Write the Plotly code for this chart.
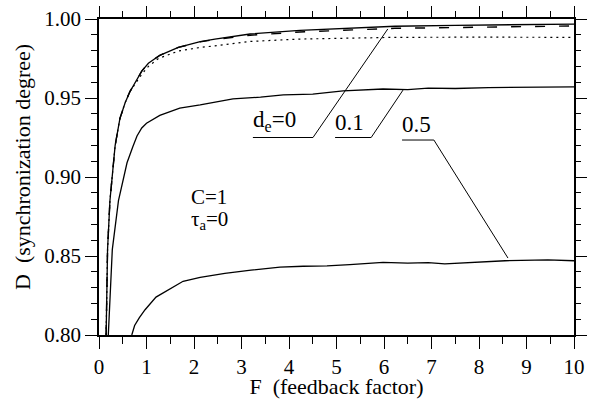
import plotly.graph_objects as go

# d_e = 0 (solid)
f_de0 = [0.15, 0.18, 0.23, 0.28, 0.34, 0.44, 0.55, 0.65, 0.76, 0.9, 1.04, 1.28, 1.67, 2.13, 2.44, 3.18,
         4.23, 5.28, 6.23, 7.5, 8.5, 10.0]
d_de0 = [0.800, 0.854, 0.885, 0.902, 0.920, 0.937, 0.947, 0.954, 0.960, 0.967, 0.972, 0.977, 0.982,
         0.9857, 0.9873, 0.9905, 0.9928, 0.9943, 0.9954, 0.996, 0.9964, 0.9968]

# dashed variant
f_dash = [0.15, 0.18, 0.23, 0.28, 0.34, 0.44, 0.55, 0.65, 0.76, 0.9, 1.04, 1.28, 1.67, 2.13, 2.44, 3.18,
          4.23, 5.28, 6.23, 7.5, 8.5, 10.0]
d_dash = [0.800, 0.854, 0.885, 0.902, 0.920, 0.937, 0.947, 0.954, 0.960, 0.967, 0.972, 0.977, 0.982,
          0.9855, 0.987, 0.9897, 0.9918, 0.9932, 0.9941, 0.9946, 0.995, 0.9956]

# dotted variant
f_dot = [0.15, 0.18, 0.23, 0.28, 0.34, 0.44, 0.55, 0.65, 0.76, 0.9, 1.04, 1.25, 1.67, 2.13, 2.44, 3.18,
         4.23, 5.28, 6.23, 8.0, 10.0]
d_dot = [0.800, 0.854, 0.885, 0.902, 0.920, 0.937, 0.947, 0.954, 0.959, 0.965, 0.970, 0.975, 0.9797,
         0.982, 0.983, 0.9858, 0.9873, 0.988, 0.9884, 0.9885, 0.9884]

# d_e = 0.1
f_de01 = [0.196, 0.23, 0.28, 0.41, 0.59, 0.71, 0.8, 0.9, 1.0, 1.28, 1.7, 2.13, 2.82, 3.4, 3.88, 4.5,
          5.14, 5.98, 6.5, 6.93, 7.5, 8.2, 9.03, 10.0]
d_de01 = [0.800, 0.822, 0.854, 0.885, 0.909, 0.919, 0.926, 0.931, 0.934, 0.939, 0.9436, 0.9456,
          0.9495, 0.9505, 0.952, 0.9525, 0.9545, 0.9557, 0.9553, 0.9563, 0.956, 0.9566, 0.957, 0.957]

# d_e = 0.5
f_de05 = [0.69, 0.75, 0.85, 0.97, 1.2, 1.5, 1.77, 2.13, 2.65, 3.2, 3.81, 4.3, 4.8, 5.28, 5.98, 6.5,
          6.93, 7.28, 8.0, 8.55, 9.45, 10.0]
d_de05 = [0.800, 0.806, 0.811, 0.816, 0.824, 0.8295, 0.834, 0.8365, 0.839, 0.841, 0.843, 0.8435,
          0.8437, 0.8445, 0.846, 0.8455, 0.8458, 0.845, 0.846, 0.847, 0.8475, 0.847]

y_ticks = [0.80, 0.85, 0.90, 0.95, 1.00]
x_ticks = [0, 1, 2, 3, 4, 5, 6, 7, 8, 9, 10]

serif = "Liberation Serif, Times New Roman, serif"
ink = "black"

fig = go.Figure()
fig.add_trace(go.Scatter(x=f_dot, y=d_dot, mode="lines",
                         line=dict(color=ink, width=1.2, dash="2px,4px")))
fig.add_trace(go.Scatter(x=f_dash, y=d_dash, mode="lines",
                         line=dict(color=ink, width=1.4, dash="10px,14px")))
for fx, dy in [(f_de0, d_de0), (f_de01, d_de01), (f_de05, d_de05)]:
    fig.add_trace(go.Scatter(x=fx, y=dy, mode="lines", line=dict(color=ink, width=1.3)))
# empty trace so the top/right tick axes get drawn
fig.add_trace(go.Scatter(x=[None], y=[None], xaxis="x2", yaxis="y2", hoverinfo="skip"))

# curve labels with underline and leader line
labels = [
    ("d<sub>e</sub>=0", 3.24, 4.505, 6.08, 0.9937),
    ("0.1", 4.97, 5.73, 6.40, 0.955),
    ("0.5", 6.38, 7.05, 8.61, 0.8487),
]
label_y = [0.925, 0.925, 0.9234]
for (txt, x0, x1, xe, ye), yl in zip(labels, label_y):
    fig.add_shape(type="line", x0=x0, x1=x1, y0=yl, y1=yl, xref="x", yref="y",
                  line=dict(color=ink, width=1))
    fig.add_shape(type="line", x0=x1, x1=xe, y0=yl, y1=ye, xref="x", yref="y",
                  line=dict(color=ink, width=1))
    fig.add_annotation(x=x0, y=yl, xref="x", yref="y", text=txt, showarrow=False,
                       xanchor="left", yanchor="bottom", yshift=1, xshift=-2,
                       font=dict(family=serif, size=23, color=ink))

fig.add_annotation(x=1.9, y=0.8875, xref="x", yref="y", text="C=1", showarrow=False,
                   xanchor="left", yanchor="middle", font=dict(family=serif, size=21, color=ink))
fig.add_annotation(x=1.9, y=0.873, xref="x", yref="y", text="τ<sub>a</sub>=0", showarrow=False,
                   xanchor="left", yanchor="middle", font=dict(family=serif, size=21, color=ink))
# y axis title as annotation for finer placement
fig.add_annotation(x=0, y=0.5, xref="paper", yref="paper", xshift=-77, yshift=10,
                   text="D\u00a0 (synchronization degree)", textangle=-90, showarrow=False,
                   xanchor="center", yanchor="middle", font=dict(family=serif, size=22, color=ink))

tick_style = dict(ticks="outside", ticklen=12, tickwidth=1.3, tickcolor=ink, showgrid=False,
                  zeroline=False, automargin=False)
axis_common = dict(showline=True, linecolor=ink, linewidth=1.5, mirror=True,
                   tickfont=dict(family=serif, size=21, color=ink), **tick_style)
fig.update_layout(
    xaxis=dict(range=[0, 10], tickvals=x_ticks,
               minor=dict(dtick=0.5, ticklen=7, tickwidth=1.3, tickcolor=ink, ticks="outside"),
               title=dict(text="F\u00a0 (feedback factor)", font=dict(family=serif, size=22, color=ink)),
               **axis_common),
    yaxis=dict(range=[0.80, 1.00], tickvals=y_ticks, tickformat=".2f",
               minor=dict(dtick=0.01, ticklen=6, tickwidth=1.3, tickcolor=ink, ticks="outside"),
               **axis_common),
    xaxis2=dict(overlaying="x", side="top", matches="x", tickvals=x_ticks, showticklabels=False,
                minor=dict(dtick=0.5, ticklen=7, tickwidth=1.3, tickcolor=ink, ticks="outside"),
                showline=False, **tick_style),
    yaxis2=dict(overlaying="y", side="right", matches="y", tickvals=y_ticks, showticklabels=False,
                minor=dict(dtick=0.01, ticklen=6, tickwidth=1.3, tickcolor=ink, ticks="outside"),
                showline=False, **tick_style),
    width=595, height=399, showlegend=False,
    margin=dict(l=99, r=21, t=19, b=64),
    plot_bgcolor="white", paper_bgcolor="white",
)
# drop the default body margin so the figure sits at the page corner
fig.write_html("out.html", config={"displayModeBar": False},
               post_script="document.body.style.margin='0';")
